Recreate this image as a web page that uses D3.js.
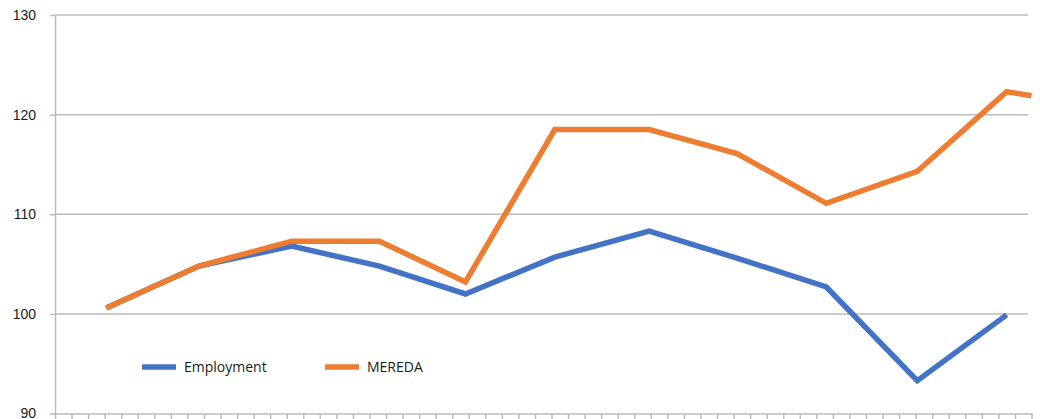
<!DOCTYPE html>
<html>
<head>
<meta charset="utf-8">
<script src="https://cdn.jsdelivr.net/npm/d3@7"></script>
<style>
  body { margin: 0; background: #fff; }
  svg { display: block; font-family: "Open Sans", "Noto Sans", sans-serif; }
  .grid line { stroke: #bcbcbc; stroke-width: 1.5; }
  .axis path, .axis line { stroke: #bcbcbc; stroke-width: 1.5; }
  .axis text { fill: #1a1a1a; font-size: 14px; }
  .linePath { fill: none; stroke-width: 5.5; stroke-linejoin: miter; }
</style>
</head>
<body>
<div class="interactive-chart"></div>
<script>
// x positions in axis-tick units (59 intervals along the bottom axis)
const periods = [3.1, 8.7, 14.3, 19.6, 24.8, 30.2, 35.9, 41.2, 46.6, 52.1, 57.5, 59.0]
const employment = [100.6, 104.8, 106.8, 104.8, 102.0, 105.7, 108.3, 105.6, 102.7, 93.3, 99.9]
const mereda = [100.6, 104.8, 107.3, 107.3, 103.2, 118.5, 118.5, 116.1, 111.1, 114.3, 122.3, 121.9]
const yTicks = [90, 100, 110, 120, 130]
const seriesNames = ['Employment', 'MEREDA']
const colors = ['#4472c4', '#ed7d31']

const width = 1040
const height = 419
const margin = {top: 15, right: 8.5, bottom: 5.5, left: 55}

const xScale = d3.scaleLinear().domain([0, 59]).range([margin.left, width - margin.right])
const yScale = d3.scaleLinear().domain([90, 130]).range([height - margin.bottom, margin.top])

const svg = d3.select('.interactive-chart')
  .append('svg')
  .attr('width', width)
  .attr('height', height)

// horizontal gridlines + y labels
const yaxis = svg.append('g')
  .attr('class', 'y axis')
  .attr('transform', 'translate(' + margin.left + ',0)')
  .call(d3.axisLeft(yScale)
    .tickValues(yTicks)
    .tickSizeInner(5)
    .tickSizeOuter(0)
    .tickPadding(14)
  )

svg.append('g')
  .attr('class', 'grid')
  .selectAll('line')
  .data(yTicks.slice(1))
  .join('line')
  .attr('x1', margin.left)
  .attr('x2', 1028)
  .attr('y1', d => yScale(d))
  .attr('y2', d => yScale(d))

const xaxis = svg.append('g')
  .attr('class', 'x axis')
  .attr('transform', 'translate(0,' + yScale(90) + ')')
  .call(d3.axisBottom(xScale)
    .tickValues(d3.range(0, 60))
    .tickFormat('')
    .tickSizeInner(6)
    .tickSizeOuter(0)
  )

const valueline = d3.line()
  .x((d, i) => xScale(periods[i]))
  .y(d => yScale(d))

svg.append('path')
  .datum(employment)
  .attr('class', 'linePath')
  .attr('stroke', colors[0])
  .attr('d', valueline)

svg.append('path')
  .datum(mereda)
  .attr('class', 'linePath')
  .attr('stroke', colors[1])
  .attr('d', valueline)

// legend
const legendX = [142, 325]
const legend = svg.append('g').attr('class', 'legend')
seriesNames.forEach((name, i) => {
  legend.append('line')
    .attr('x1', legendX[i])
    .attr('x2', legendX[i] + 34)
    .attr('y1', 367)
    .attr('y2', 367)
    .attr('stroke', colors[i])
    .attr('stroke-width', 5.5)
  legend.append('text')
    .attr('x', legendX[i] + 42)
    .attr('y', 372)
    .attr('font-size', 14)
    .attr('fill', '#1a1a1a')
    .text(name)
})
</script>
</body>
</html>
